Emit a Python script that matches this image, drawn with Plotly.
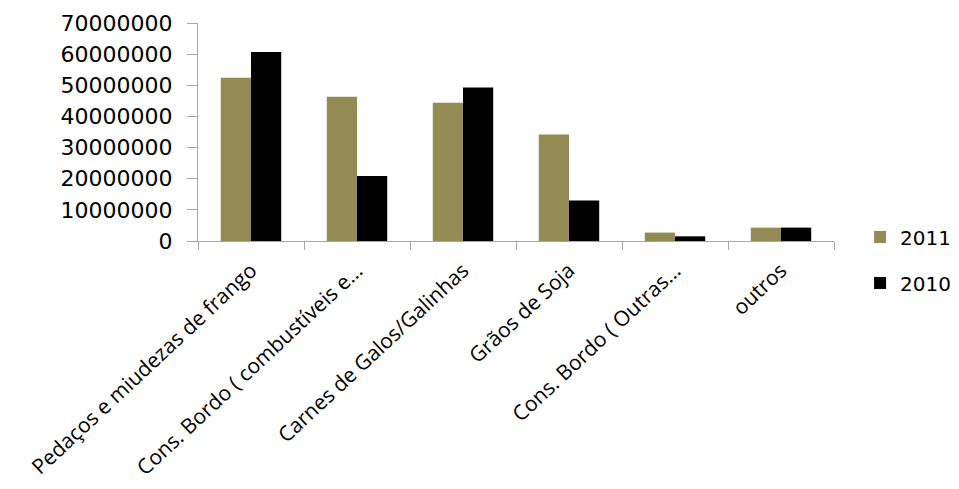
import plotly.graph_objects as go

categories = [
    "Pedaços e miudezas de frango",
    "Cons. Bordo ( combustíveis e...",
    "Carnes de Galos/Galinhas",
    "Grãos de Soja",
    "Cons. Bordo ( Outras...",
    "outros",
]
values_2011 = [52400000, 46300000, 44400000, 34200000, 2700000, 4300000]
values_2010 = [60700000, 20900000, 49300000, 13000000, 1500000, 4300000]
y_ticks = [0, 10000000, 20000000, 30000000, 40000000, 50000000, 60000000, 70000000]

fig = go.Figure()
fig.add_trace(go.Bar(name="2011", x=categories, y=values_2011,
                     marker=dict(color="#948A54", line=dict(width=0)),
                     legendgroup="a"))
fig.add_trace(go.Bar(name="2010", x=categories, y=values_2010,
                     marker=dict(color="#000000", line=dict(width=0)),
                     legendgroup="b"))

fig.update_layout(
    width=943, height=473,
    margin=dict(l=190, r=117, t=15, b=240, autoexpand=False),
    paper_bgcolor="white", plot_bgcolor="white",
    barmode="group", bargap=0.43, bargroupgap=0,
    font=dict(family="DejaVu Sans", size=20, color="#000000"),
    showlegend=True,
    legend=dict(x=1.041, xanchor="left", y=0.108, yanchor="top",
                font=dict(family="DejaVu Sans", size=20),
                tracegroupgap=17, bgcolor="rgba(0,0,0,0)"),
)
fig.update_xaxes(
    type="category", tickangle=-43, automargin=False,
    showline=True, linecolor="#A6A6A6", linewidth=1,
    ticks="outside", tickson="boundaries", ticklen=8, tickcolor="#A6A6A6",
    showgrid=False, ticklabelstandoff=8,
    tickfont=dict(family="Open Sans", size=21, color="#000000"),
)
fig.update_yaxes(
    range=[0, 70000000], tickvals=y_ticks,
    ticktext=[str(v) for v in y_ticks], automargin=False,
    showline=True, linecolor="#A6A6A6", linewidth=1,
    ticks="outside", ticklen=10, tickcolor="#A6A6A6",
    showgrid=False, zeroline=False, ticklabelstandoff=10,
    tickfont=dict(family="DejaVu Sans", size=22, color="#000000"),
)

fig.write_html("out.html")
